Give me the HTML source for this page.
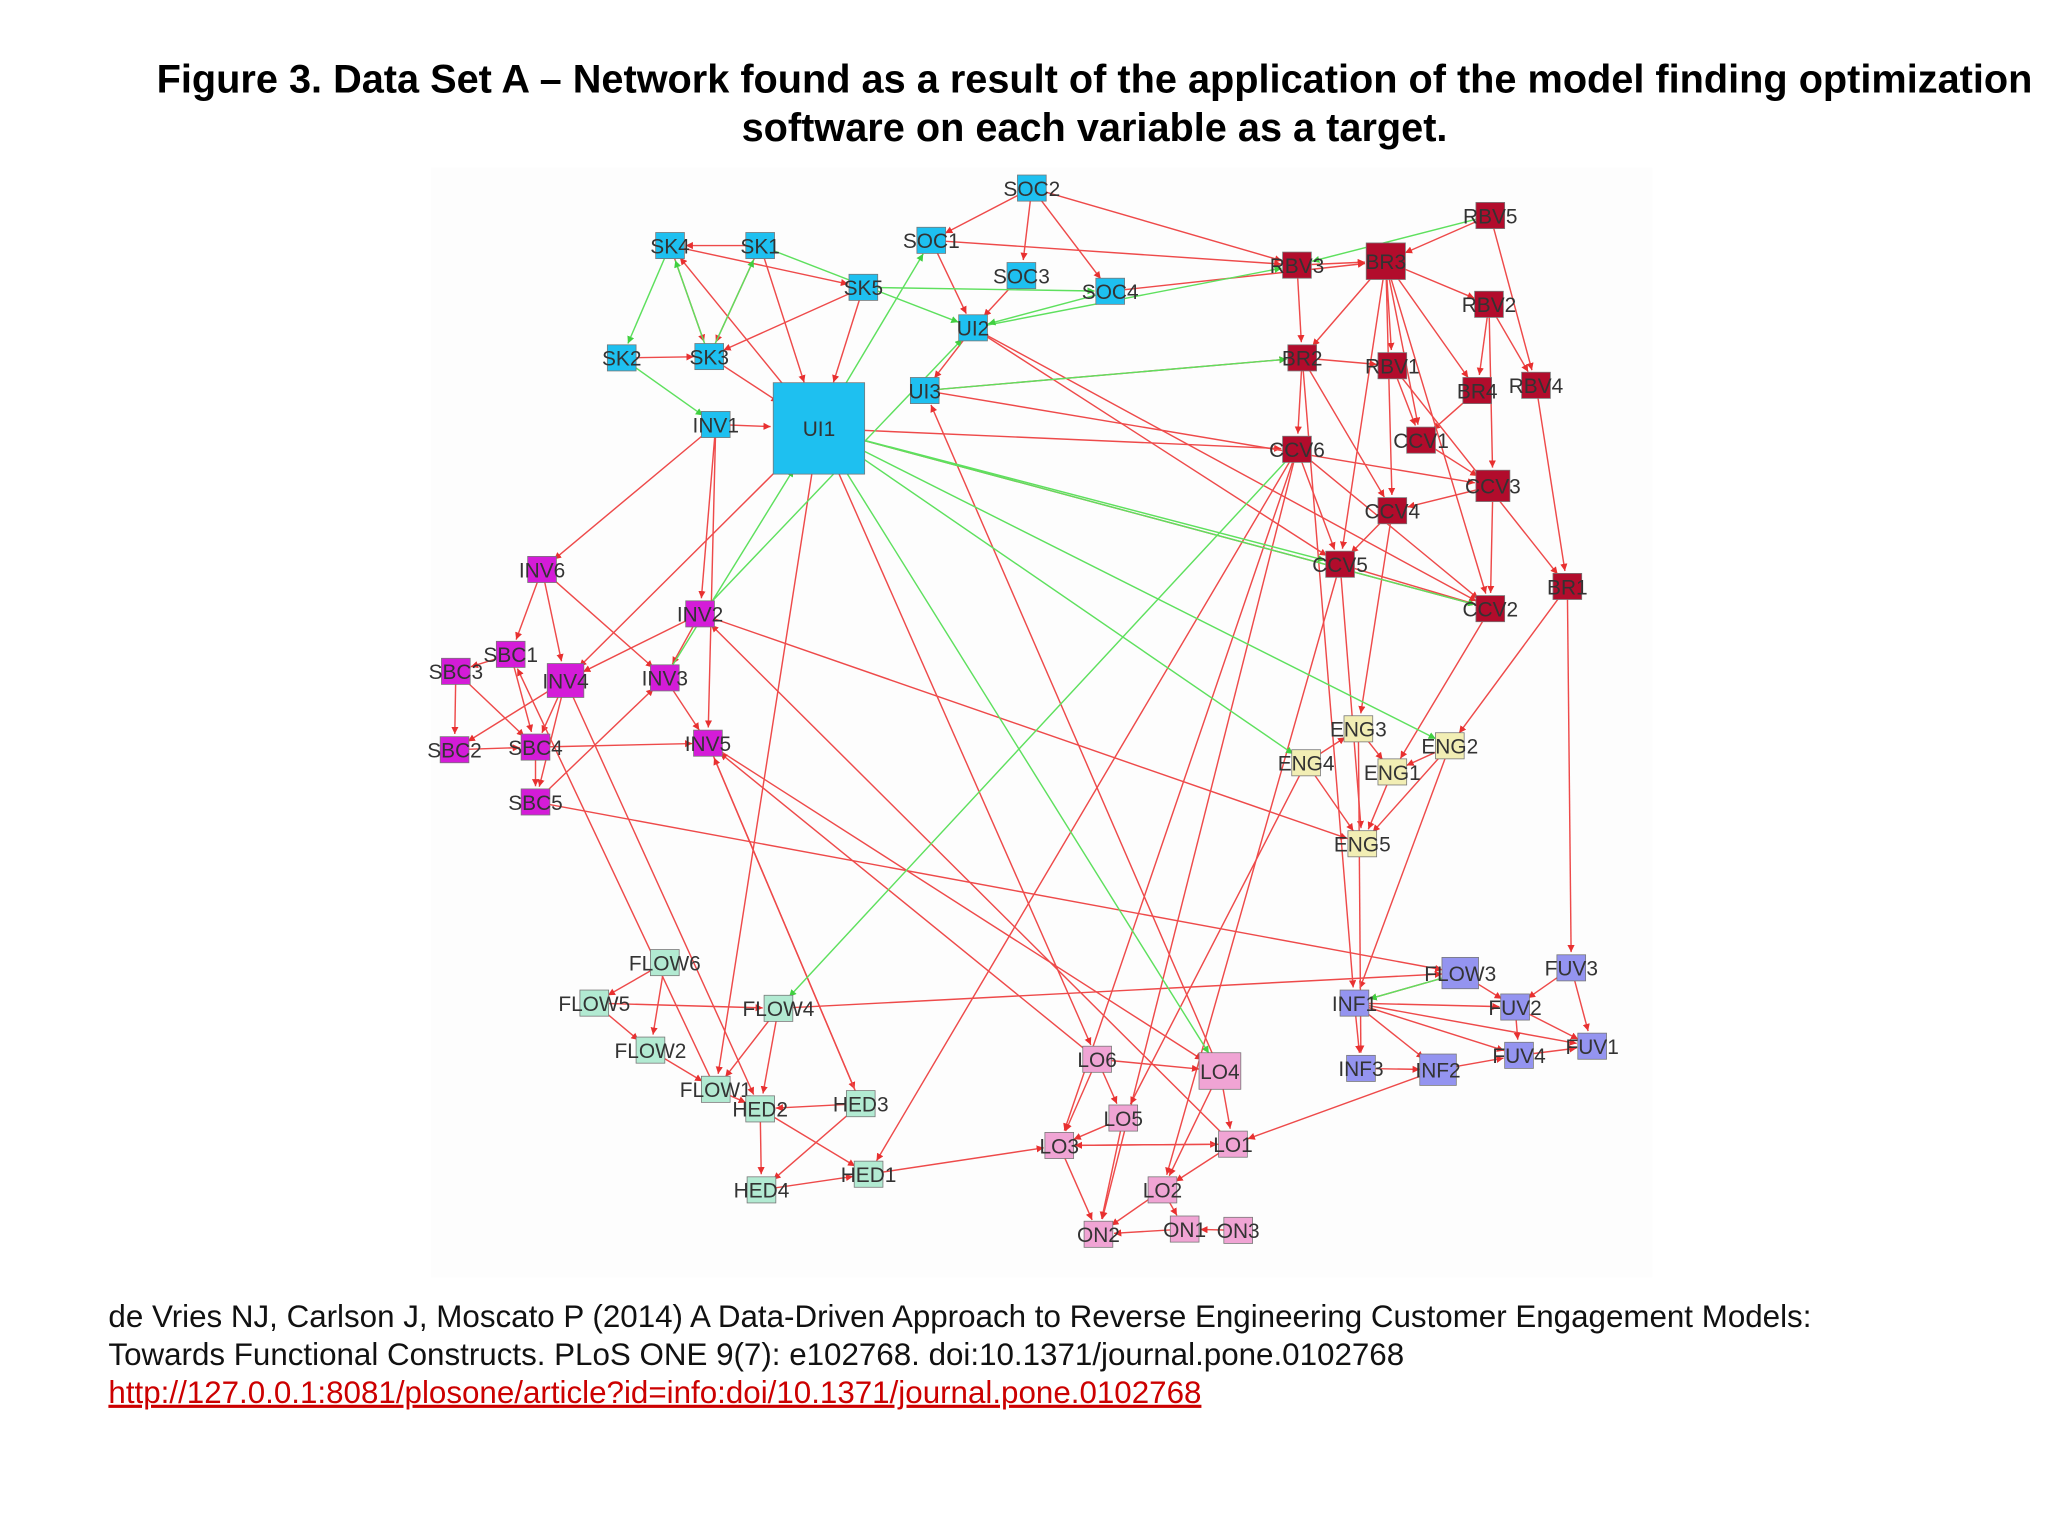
<!DOCTYPE html>
<html><head><meta charset="utf-8">
<style>
html,body{margin:0;padding:0;background:#fff;}
#wrap{width:2048px;height:1536px;position:relative;overflow:hidden;font-family:"Liberation Sans",Arial,sans-serif;}
svg{position:absolute;left:0;top:0;}
</style></head>
<body>
<div id="wrap">
<svg id="chart" width="2048" height="1536" viewBox="0 0 1568 1176">
<defs>
<marker id="ar" viewBox="0 0 10 10" refX="10" refY="5" markerWidth="5" markerHeight="5" orient="auto"><path d="M0,0L10,5L0,10z" fill="#e83030"/></marker>
<marker id="ag" viewBox="0 0 10 10" refX="10" refY="5" markerWidth="5" markerHeight="5" orient="auto"><path d="M0,0L10,5L0,10z" fill="#40d040"/></marker>
</defs>
<rect x="330" y="128" width="935" height="850" fill="#fdfdfd"/>
<text x="838" y="71" text-anchor="middle" font-size="30.4" font-weight="bold" fill="#000">Figure 3. Data Set A – Network found as a result of the application of the model finding optimization</text>
<text x="838" y="108" text-anchor="middle" font-size="30.4" font-weight="bold" fill="#000">software on each variable as a target.</text>
<g id="edges"></g>
<g id="nodes"></g>
<text x="83" y="1016" font-size="24" fill="#111">de Vries NJ, Carlson J, Moscato P (2014) A Data-Driven Approach to Reverse Engineering Customer Engagement Models:</text>
<text x="83" y="1045" font-size="24" fill="#111">Towards Functional Constructs. PLoS ONE 9(7): e102768. doi:10.1371/journal.pone.0102768</text>
<text x="83" y="1074" font-size="24" fill="#cc0000" text-decoration="underline">http://127.0.0.1:8081/plosone/article?id=info:doi/10.1371/journal.pone.0102768</text>
</svg>
</div>
<script>
const nodeNames=["SOC2","SK4","SK1","SOC1","SOC3","SK5","SOC4","UI2","SK2","SK3","UI3","INV1","UI1",
"RBV5","RBV3","BR3","RBV2","BR2","RBV1","BR4","RBV4","CCV1","CCV6","CCV3","CCV4","CCV5","BR1","CCV2",
"INV6","INV2","SBC1","SBC3","INV4","INV3","SBC2","SBC4","INV5","SBC5",
"ENG3","ENG2","ENG4","ENG1","ENG5",
"FLOW6","FLOW5","FLOW4","FLOW2","FLOW1","HED2","HED3","HED1","HED4",
"FLOW3","FUV3","INF1","FUV2","FUV4","FUV1","INF3","INF2",
"LO6","LO4","LO5","LO3","LO1","LO2","ON2","ON1","ON3"];
const nodeX=[790,513,582,713,782,661,850,745,476,543,708,548,627,
1141,993,1061,1140,997,1066,1131,1176,1088,993,1143,1066,1026,1200,1141,
415,536,391,349,433,509,348,410,542,410,
1040,1110,1000,1066,1043,
509,455,596,498,548,582,659,665,583,
1118,1203,1037,1160,1163,1219,1042,1101,
840,934,860,811,944,890,841,907,948];
const nodeY=[144,188,188,184,211,220,223,251,274,273,299,325,328,
165,203,200,233,274,280,299,295,337,344,372,391,432,449,466,
436,470,501,514,521,519,574,572,569,614,
558,571,584,591,646,
737,768,772,804,834,849,845,899,911,
745,741,768,771,808,801,818,819,
811,820,856,877,876,911,945,941,942];
const nodeGroup=["b","b","b","b","b","b","b","b","b","b","b","b","b",
"r","r","r","r","r","r","r","r","r","r","r","r","r","r","r",
"m","m","m","m","m","m","m","m","m","m",
"y","y","y","y","y",
"g","g","g","g","g","g","g","g","g",
"p","p","p","p","p","p","p","p",
"k","k","k","k","k","k","k","k","k"];
const redEdges=[["SOC2","SOC1"],["SOC2","SOC3"],["SOC2","SOC4"],["SOC2","RBV3"],["SK4","SK3"],["SK4","SK5"],["SK1","SK3"],["SK1","SK4"],["SK1","UI1"],["SOC1","UI2"],["SOC1","RBV3"],["SOC3","UI2"],["SK5","SK3"],["SK5","UI1"],["SOC4","BR3"],["UI2","UI3"],["UI2","CCV5"],["SK2","SK3"],["SK3","UI1"],["INV1","UI1"],["UI1","CCV2"],["UI1","CCV6"],["UI1","LO6"],["UI1","FLOW1"],["UI1","SK4"],["UI1","INV4"],["UI3","BR2"],["UI3","CCV3"],["UI2","CCV2"],
["BR3","RBV1"],["BR3","BR4"],["BR3","CCV1"],["BR3","CCV4"],["BR3","CCV5"],["BR3","BR2"],["BR3","RBV2"],["RBV3","BR2"],["RBV3","BR3"],["RBV5","BR3"],["RBV5","RBV4"],["RBV2","BR4"],["RBV2","RBV4"],["RBV2","CCV3"],["BR2","CCV6"],["BR2","RBV1"],["BR2","CCV4"],["RBV1","CCV1"],["BR4","CCV1"],["RBV4","BR1"],["CCV1","CCV3"],["CCV6","CCV5"],["CCV6","CCV2"],["CCV3","CCV4"],["CCV3","CCV2"],["CCV4","CCV5"],["CCV5","CCV2"],["RBV1","BR1"],["BR3","CCV2"],["BR1","ENG2"],["BR1","FUV3"],
["CCV6","ON2"],["CCV6","LO3"],["CCV6","HED1"],["CCV5","LO2"],["CCV5","ENG5"],["CCV4","ENG3"],["CCV2","ENG1"],["BR2","INF1"],
["INV1","INV2"],["INV1","INV6"],["INV1","INV5"],["INV6","SBC1"],["INV6","INV3"],["INV6","INV4"],["INV2","INV3"],["INV2","INV4"],["INV2","ENG5"],["SBC1","SBC3"],["SBC1","SBC4"],["SBC3","SBC2"],["SBC3","SBC4"],["INV4","SBC4"],["INV4","SBC5"],["INV4","SBC2"],["INV3","INV5"],["SBC4","SBC5"],["SBC4","INV5"],["SBC2","SBC4"],["SBC5","FLOW3"],["SBC5","INV3"],["INV5","LO4"],["INV5","HED3"],["INV4","HED2"],
["ENG3","ENG1"],["ENG2","ENG1"],["ENG4","ENG3"],["ENG1","ENG5"],["ENG2","ENG5"],["ENG4","ENG5"],["ENG2","INF1"],["ENG4","LO5"],["ENG3","INF3"],
["FLOW6","FLOW5"],["FLOW6","FLOW2"],["FLOW5","FLOW2"],["FLOW5","FLOW4"],["FLOW2","FLOW1"],["FLOW4","FLOW1"],["FLOW4","HED2"],["FLOW1","HED2"],["HED2","HED4"],["HED2","HED1"],["HED3","HED2"],["HED3","HED4"],["HED4","HED1"],["HED1","LO3"],["FLOW4","FLOW3"],["FLOW1","SBC1"],["HED3","INV5"],
["FLOW3","FUV2"],["FLOW3","INF1"],["FUV3","FUV1"],["FUV3","FUV2"],["INF1","INF3"],["INF1","INF2"],["INF1","FUV4"],["INF1","FUV1"],["INF1","FUV2"],["FUV2","FUV1"],["FUV4","FUV1"],["INF2","FUV4"],["INF3","INF2"],["INF2","LO1"],["FUV2","FUV4"],
["LO6","LO3"],["LO6","LO4"],["LO6","LO5"],["LO4","LO1"],["LO4","LO2"],["LO5","LO3"],["LO3","LO1"],["LO1","LO3"],["LO3","ON2"],["LO1","LO2"],["LO2","ON2"],["ON1","ON2"],["ON3","ON1"],["LO5","ON2"],["LO2","ON1"],["LO6","INV5"],["LO1","INV2"],["LO4","UI3"]];
const greenEdges=[["SK4","SK2"],["SK2","INV1"],["SK3","SK4"],["SK1","UI2"],["UI1","SOC1"],["UI2","RBV3"],["UI3","BR2"],["UI1","CCV5"],["UI1","CCV2"],["UI1","ENG4"],["UI1","ENG2"],["UI1","LO4"],["INV2","UI2"],["INV3","UI1"],["CCV6","FLOW4"],["SOC4","UI2"],["SK3","SK1"],["FLOW3","INF1"],["SK5","SOC4"],["RBV5","RBV3"]];
const colors={b:"#1ec0f0",r:"#b20c2c",m:"#d41cd8",y:"#f2eeb4",g:"#b2ead2",p:"#9494f0",k:"#f0a4d4"};
const big={UI1:[70,70],BR3:[30,28],CCV3:[26,24],LO4:[32,28],INV4:[28,26],FLOW3:[28,24],INF2:[28,24]};
const NS="http://www.w3.org/2000/svg";
const idx=n=>nodeNames.indexOf(n);
const sz=n=>big[n]||[22,20];
function drawEdge(e,col,mk){
  const a=idx(e[0]),b=idx(e[1]);
  const x1=nodeX[a],y1=nodeY[a],x2=nodeX[b],y2=nodeY[b];
  const dx=x2-x1,dy=y2-y1,L=Math.hypot(dx,dy)||1;
  const s=sz(e[1]);const r=Math.min(s[0],s[1])/2+2;
  const l=document.createElementNS(NS,"line");
  l.setAttribute("x1",x1);l.setAttribute("y1",y1);
  l.setAttribute("x2",x2-dx/L*r);l.setAttribute("y2",y2-dy/L*r);
  l.setAttribute("stroke",col);l.setAttribute("stroke-width","1.1");
  l.setAttribute("marker-end","url(#"+mk+")");
  
  
  document.getElementById("edges").appendChild(l);
}
redEdges.forEach(e=>drawEdge(e,"#ee4a4a","ar"));
greenEdges.forEach(e=>drawEdge(e,"#5ee05e","ag"));
nodeNames.forEach((n,i)=>{
  const s=sz(n);
  const g=document.createElementNS(NS,"g");
  
  
  const r=document.createElementNS(NS,"rect");
  r.setAttribute("x",nodeX[i]-s[0]/2);r.setAttribute("y",nodeY[i]-s[1]/2);
  r.setAttribute("width",s[0]);r.setAttribute("height",s[1]);
  r.setAttribute("fill",colors[nodeGroup[i]]);r.setAttribute("stroke","#777");r.setAttribute("stroke-width","0.6");
  g.appendChild(r);
  const t=document.createElementNS(NS,"text");
  t.setAttribute("x",nodeX[i]);t.setAttribute("y",nodeY[i]+6);
  t.setAttribute("text-anchor","middle");t.setAttribute("font-size","16");t.setAttribute("fill","#333");
  t.setAttribute("font-family","Liberation Sans, Arial, sans-serif");
  t.textContent=n;
  g.appendChild(t);
  document.getElementById("nodes").appendChild(g);
});
</script>
</body></html>
